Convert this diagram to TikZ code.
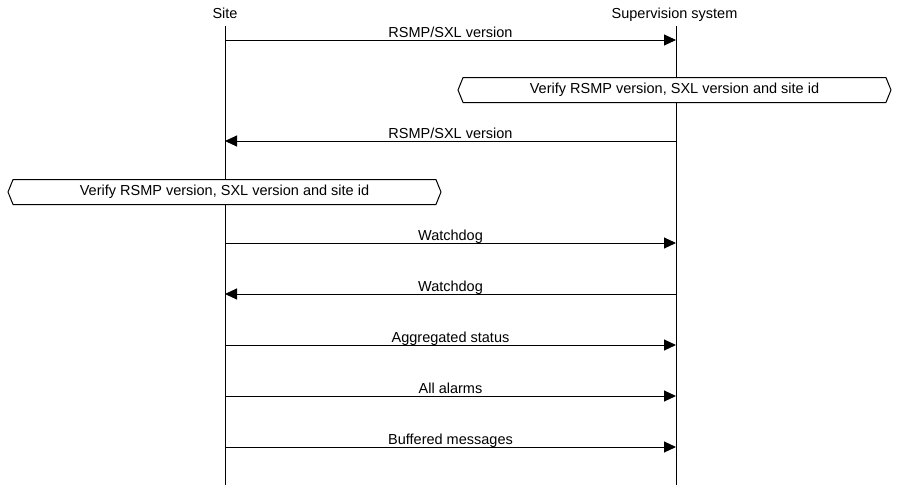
\documentclass[tikz,border=0pt]{standalone}
\usepackage{fontspec}
\setmainfont{Liberation Sans}
\usetikzlibrary{arrows.meta,shapes.symbols}
\begin{document}
\begin{tikzpicture}[x=1pt,y=-1pt,line width=1pt]
      \useasboundingbox (0,0) rectangle (900,485);

      \begin{scope}[every node/.style={anchor=base, font=\fontsize{14.5}{17}\selectfont}]
        \node (site) at (225,18) {Site};
        \node (sup)  at (674.5,18) {Supervision system};
      \end{scope}

      \coordinate (site top) at (225,26);
      \coordinate (site end) at (225,485);
      \coordinate (sup top)  at (676,26);
      \coordinate (sup end)  at (676,485);
      \draw (site top) -- (site end);
      \draw (sup top) -- (sup end);

      \foreach \n/\y in {1/40,2/141,3/243,4/294,5/345,6/396,7/447} {
        \coordinate (s\n) at (225,\y);
        \coordinate (v\n) at (676,\y);
      }

      \begin{scope}[every node/.style={anchor=base, yshift=3pt, font=\fontsize{14.5}{17}\selectfont}]

        \begin{scope}[every edge/.style={draw, -{Triangle[length=12pt,width=11pt]}}]
          \path (s1) edge node {RSMP/SXL version} (v1);
          \path (v2) edge node {RSMP/SXL version} (s2);
          \path (s3) edge node {Watchdog} (v3);
          \path (v4) edge node {Watchdog} (s4);
          \path (s5) edge node {Aggregated status} (v5);
          \path (s6) edge node {All alarms} (v6);
          \path (s7) edge node {Buffered messages} (v7);
        \end{scope}
      \end{scope}

      \begin{scope}[every node/.style={signal, signal to=west and east, signal pointer angle=136,
          draw, fill=white, inner sep=0pt, minimum width=433pt, minimum height=25pt,
          font=\fontsize{14.5}{17}\selectfont}]
        \node (verify sup)  at (674.5,90)  {Verify RSMP version, SXL version and site id};
        \node (verify site) at (224.5,192) {Verify RSMP version, SXL version and site id};
      \end{scope}

    \end{tikzpicture}
\end{document}
